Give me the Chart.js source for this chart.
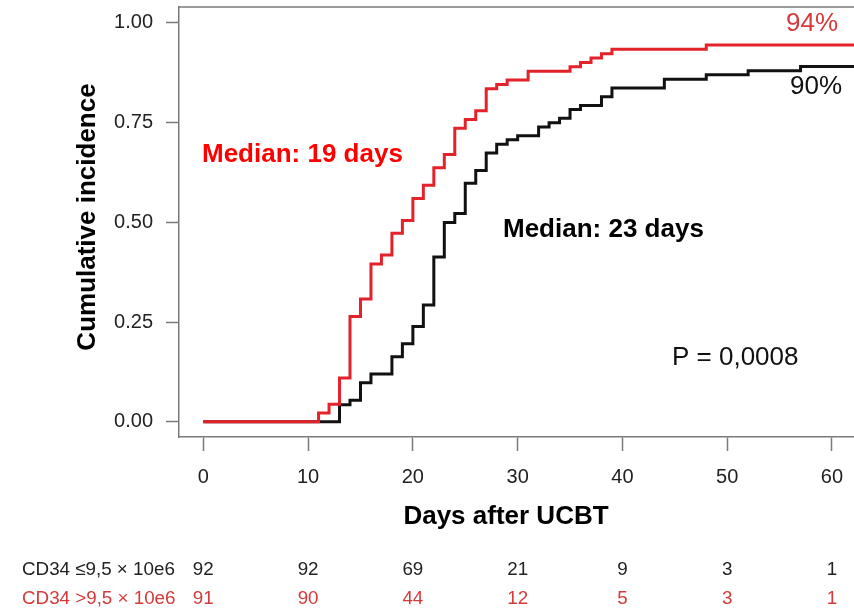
<!DOCTYPE html>
<html><head><meta charset="utf-8">
<script src="https://cdn.jsdelivr.net/npm/chart.js@4.4.1/dist/chart.umd.min.js"></script>
<style>html,body{margin:0;padding:0;background:#fff;}</style>
</head><body>
<canvas id="c" width="854" height="609"></canvas>
<script>
const xTicks = [0, 10, 20, 30, 40, 50, 60];
const yTicks = [0, 0.25, 0.5, 0.75, 1];
const redDays   = [0, 11, 12, 13, 14, 15, 16, 17, 18, 19, 20, 21, 22, 23, 24, 25, 26, 27, 28, 29, 31, 35, 36, 37, 38, 39, 48, 63];
const redValues = [0, 0.022, 0.044, 0.110, 0.264, 0.308, 0.396, 0.418, 0.473, 0.505, 0.560, 0.593, 0.637, 0.670, 0.736, 0.758, 0.780, 0.835, 0.846, 0.857, 0.879, 0.890, 0.901, 0.912, 0.923, 0.934, 0.945, 0.945];
const blackDays   = [0, 13, 14, 15, 16, 18, 19, 20, 21, 22, 23, 24, 25, 26, 27, 28, 29, 30, 32, 33, 34, 35, 36, 38, 39, 44, 48, 52, 57, 63];
const blackValues = [0, 0.043, 0.054, 0.098, 0.120, 0.163, 0.196, 0.239, 0.293, 0.413, 0.500, 0.522, 0.598, 0.630, 0.674, 0.696, 0.707, 0.717, 0.739, 0.750, 0.761, 0.783, 0.793, 0.815, 0.837, 0.859, 0.870, 0.880, 0.891, 0.891];
const riskLabels = ['CD34 \u22649,5 \u00d7 10e6', 'CD34 >9,5 \u00d7 10e6'];
const riskLow  = [92, 92, 69, 21, 9, 3, 1];
const riskHigh = [91, 90, 44, 12, 5, 3, 1];

const FONT = '"Liberation Sans", Arial, Helvetica, sans-serif';
const RED = '#e4222a';
const AXIS = '#7a7a7a';

const toPts = (xs, ys) => xs.map((x, i) => ({x: x, y: ys[i]}));
const noPad = s => { s.paddingTop = 0; s.paddingBottom = 0; s.paddingLeft = 0; s.paddingRight = 0; };

const overlay = {
  id: 'overlay',
  afterDraw(chart) {
    const ctx = chart.ctx;
    const a = chart.chartArea;
    const xs = chart.scales.x;
    ctx.save();
    ctx.strokeStyle = AXIS; ctx.lineWidth = 1.5;
    ctx.beginPath(); ctx.moveTo(a.left, a.top); ctx.lineTo(a.right, a.top); ctx.stroke();

    ctx.textBaseline = 'middle';
    ctx.fillStyle = '#000';
    ctx.font = 'bold 26px ' + FONT;
    ctx.textAlign = 'center';
    ctx.fillText('Days after UCBT', 506, 517);
    ctx.save();
    ctx.translate(88, 217); ctx.rotate(-Math.PI / 2);
    ctx.fillText('Cumulative incidence', 0, 0);
    ctx.restore();

    ctx.textAlign = 'left';
    ctx.fillStyle = '#ff0000';
    ctx.fillText('Median: 19 days', 202, 155);
    ctx.fillStyle = '#000';
    ctx.fillText('Median: 23 days', 503, 230);
    ctx.font = '26px ' + FONT;
    ctx.fillStyle = '#111';
    ctx.fillText('P = 0,0008', 672, 358);
    ctx.fillText('90%', 790, 87);
    ctx.fillStyle = '#d43a3a';
    ctx.fillText('94%', 786, 24);

    ctx.font = '18.8px ' + FONT;
    const rows = [[riskLabels[0], riskLow, '#222', 570], [riskLabels[1], riskHigh, '#d43a3a', 598.5]];
    rows.forEach(r => {
      ctx.fillStyle = r[2];
      ctx.textAlign = 'left';
      ctx.fillText(r[0], 22, r[3]);
      ctx.textAlign = 'center';
      r[1].forEach((v, i) => ctx.fillText(String(v), xs.getPixelForValue(xTicks[i]), r[3]));
    });
    ctx.restore();
  }
};

new Chart(document.getElementById('c'), {
  type: 'line',
  data: {
    datasets: [
      { label: 'CD34 >9,5', data: toPts(redDays, redValues), borderColor: RED, borderWidth: 3, stepped: 'before', pointRadius: 0, fill: false },
      { label: 'CD34 <=9,5', data: toPts(blackDays, blackValues), borderColor: '#111', borderWidth: 3, stepped: 'before', pointRadius: 0, fill: false }
    ]
  },
  options: {
    responsive: false,
    animation: false,
    events: [],
    layout: { padding: { top: 7, right: 0, left: 0, bottom: 0 } },
    plugins: { legend: { display: false }, tooltip: { enabled: false } },
    scales: {
      x: {
        type: 'linear', min: -2.32, max: 62.1,
        afterFit(s) { s.height = 172; noPad(s); },
        afterBuildTicks(s) { s.ticks = xTicks.map(v => ({value: v})); },
        ticks: { color: '#222', font: { size: 20, family: FONT }, padding: 14, maxRotation: 0, autoSkip: false },
        grid: { display: true, drawOnChartArea: false, drawTicks: true, tickLength: 14, color: AXIS, tickWidth: 1.5 },
        border: { display: true, color: AXIS, width: 1.5 }
      },
      y: {
        type: 'linear', min: -0.038, max: 1.04,
        afterFit(s) { s.width = 179; noPad(s); },
        afterBuildTicks(s) { s.ticks = yTicks.map(v => ({value: v})); },
        ticks: { color: '#222', font: { size: 20, family: FONT }, padding: 13, callback: v => Number(v).toFixed(2), autoSkip: false },
        grid: { display: true, drawOnChartArea: false, drawTicks: true, tickLength: 13, color: AXIS, tickWidth: 1.5 },
        border: { display: true, color: AXIS, width: 1.5 }
      }
    }
  },
  plugins: [overlay]
});
</script>
</body></html>
